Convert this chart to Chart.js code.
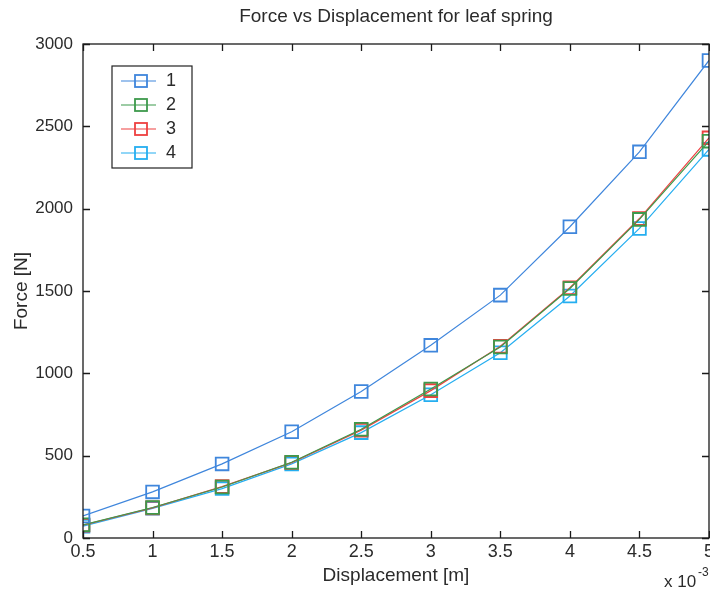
<!DOCTYPE html>
<html>
<head>
<meta charset="utf-8">
<script src="https://cdn.jsdelivr.net/npm/chart.js@4/dist/chart.umd.min.js"></script>
<style>
  html, body { margin:0; padding:0; background:#fff; overflow:hidden; }
  #wrap { width:710px; height:590px; overflow:hidden; position:relative; }
  #box { width:792px; height:590px; }
</style>
</head>
<body>
<div id="wrap"><div id="box"><canvas id="grafica"></canvas></div></div>
<script>
// displacement in units of 1e-3 m
var desplazamiento = [0.5, 1, 1.5, 2, 2.5, 3, 3.5, 4, 4.5, 5];
var fuerza1 = [134, 280, 450, 645, 890, 1170, 1475, 1890, 2345, 2900];
var fuerza2 = [80, 185, 310, 460, 660, 905, 1160, 1515, 1935, 2410];
var fuerza3 = [78, 183, 312, 458, 655, 895, 1165, 1520, 1940, 2430];
var fuerza4 = [72, 180, 300, 450, 640, 870, 1125, 1470, 1880, 2360];
var nombres = ["1", "2", "3", "4"];
var colores = ["#3f86dc", "#3d9a4c", "#ee4040", "#25aef0"];
var ticksY = [0, 500, 1000, 1500, 2000, 2500, 3000];
var titulo = "Force vs Displacement for leaf spring";

var fuente = "'Liberation Sans', Arial, sans-serif";
var txt = "#2b2b2b";

function serie(i, datos) {
	var pts = [];
	for (var k = 0; k < desplazamiento.length; k++) {
		pts.push({x: desplazamiento[k], y: datos[k]});
	}
	return {
		label: nombres[i],
		data: pts,
		borderColor: colores[i],
		backgroundColor: "rgba(0,0,0,0)",
		borderWidth: 1.2,
		pointStyle: "rect",
		pointRadius: 9,
		pointBorderWidth: 1.8,
		pointBorderColor: colores[i],
		pointBackgroundColor: "rgba(0,0,0,0)",
		tension: 0
	};
}

// title, frame, inward ticks, legend box and exponent label
var marco = {
	id: "marco",
	afterDraw: function(chart) {
		var c = chart.ctx, a = chart.chartArea;
		var sx = chart.scales.x, sy = chart.scales.y;
		c.save();

		// title centred over the axes
		c.fillStyle = txt;
		c.font = "19px " + fuente;
		c.textAlign = "center";
		c.textBaseline = "middle";
		c.fillText(titulo, (a.left + a.right) / 2, 17);

		c.strokeStyle = "#1a1a1a";
		c.lineWidth = 1.3;
		c.strokeRect(a.left, a.top, a.right - a.left, a.bottom - a.top);
		c.beginPath();
		sx.ticks.forEach(function(t) {
			var px = Math.round(sx.getPixelForValue(t.value)) + 0.5;
			c.moveTo(px, a.bottom); c.lineTo(px, a.bottom - 7);
			c.moveTo(px, a.top); c.lineTo(px, a.top + 7);
		});
		sy.ticks.forEach(function(t) {
			var py = Math.round(sy.getPixelForValue(t.value)) + 0.5;
			c.moveTo(a.left, py); c.lineTo(a.left + 7, py);
			c.moveTo(a.right, py); c.lineTo(a.right - 7, py);
		});
		c.stroke();

		// legend
		var lx = 112, ly = 66, lw = 80, lh = 102;
		c.fillStyle = "#fff";
		c.fillRect(lx, ly, lw, lh);
		c.strokeStyle = "#222";
		c.lineWidth = 1.2;
		c.strokeRect(lx, ly, lw, lh);
		chart.data.datasets.forEach(function(ds, i) {
			var yy = ly + 15 + i * 24;
			c.strokeStyle = ds.borderColor;
			c.lineWidth = 1.2;
			c.beginPath(); c.moveTo(lx + 9, yy); c.lineTo(lx + 44, yy); c.stroke();
			c.lineWidth = 1.8;
			c.strokeRect(lx + 23, yy - 6, 12, 12);
			c.fillStyle = txt;
			c.font = "18px " + fuente;
			c.textBaseline = "middle";
			c.textAlign = "left";
			c.fillText(ds.label, lx + 54, yy);
		});

		// x 10^-3
		c.fillStyle = txt;
		c.textAlign = "left";
		c.textBaseline = "alphabetic";
		c.font = "17px " + fuente;
		c.fillText("x 10", a.right - 45, 587);
		c.font = "12px " + fuente;
		c.fillText("-3", a.right - 11, 576);
		c.restore();
	}
};

function etiqueta(v) { return String(v); }

var ctx = document.getElementById("grafica").getContext("2d");
var grafica = new Chart(ctx, {
	type: "line",
	data: {
		datasets: [serie(0, fuerza1), serie(1, fuerza2), serie(2, fuerza3), serie(3, fuerza4)]
	},
	options: {
		responsive: true,
		maintainAspectRatio: false,
		animation: false,
		layout: { padding: { left: 0, right: 83, top: 44, bottom: 0 } },
		plugins: {
			legend: { display: false },
			tooltip: { enabled: false },
			title: { display: false }
		},
		scales: {
			x: {
				type: "linear",
				min: 0.5,
				max: 5,
				grid: { display: false, drawTicks: false },
				border: { display: false },
				ticks: { stepSize: 0.5, color: txt, padding: 3, callback: etiqueta, font: { family: fuente, size: 18 } },
				title: { display: true, text: "Displacement [m]", color: txt, padding: { top: 0, bottom: 3 }, font: { family: fuente, size: 19 } },
				afterFit: function(s) { s.height = 52; }
			},
			y: {
				min: 0,
				max: 3000,
				grid: { display: false, drawTicks: false },
				border: { display: false },
				afterBuildTicks: function(s) { s.ticks = ticksY.map(function(v) { return {value: v}; }); },
				ticks: { color: txt, padding: 10, callback: etiqueta, font: { family: fuente, size: 17 } },
				title: { display: true, text: "Force [N]", color: txt, padding: { top: 10, bottom: 0 }, font: { family: fuente, size: 19 } },
				afterFit: function(s) { s.width = 83; }
			}
		}
	},
	plugins: [marco]
});
</script>
</body>
</html>
